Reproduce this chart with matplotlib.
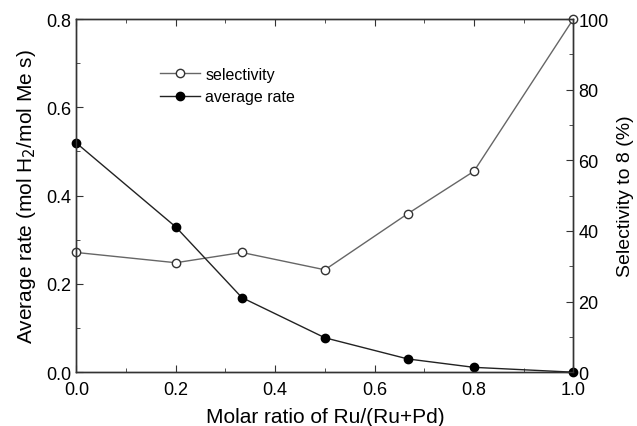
import numpy as np
import matplotlib
matplotlib.use("Agg")
import matplotlib.pyplot as plt
from matplotlib.ticker import MultipleLocator

plt.rcParams['font.family'] = ['Liberation Sans', 'DejaVu Sans']

# data
ratio = [0.0, 0.2, 0.333, 0.5, 0.667, 0.8, 1.0]
avg_rate = [0.519, 0.329, 0.169, 0.078, 0.030, 0.011, 0.0]
selectivity = [33.9, 31.0, 33.9, 29.0, 44.9, 56.9, 100.0]

fig = plt.figure(figsize=(6.37, 4.27), dpi=100)
ax = fig.add_axes([0.120, 0.126, 0.780, 0.827])
ax2 = ax.twinx()

l1, = ax2.plot(ratio, selectivity, color='#666666', lw=1.0, marker='o',
               mfc='white', mec='#333333', ms=6, label='selectivity', clip_on=False)
l2, = ax.plot(ratio, avg_rate, color='#222222', lw=1.0, marker='o',
              mfc='black', mec='black', ms=6, label='average rate', clip_on=False)

ax.set_xlim(0, 1.0)
ax.set_ylim(0, 0.8)
ax2.set_ylim(0, 100)

ax.xaxis.set_major_locator(MultipleLocator(0.2))
ax.xaxis.set_minor_locator(MultipleLocator(0.1))
ax.yaxis.set_major_locator(MultipleLocator(0.2))
ax.yaxis.set_minor_locator(MultipleLocator(0.1))
ax2.yaxis.set_major_locator(MultipleLocator(20))
ax2.yaxis.set_minor_locator(MultipleLocator(10))

ax.xaxis.set_major_formatter(plt.FuncFormatter(lambda v, p: f"{v:.1f}"))
ax.yaxis.set_major_formatter(plt.FuncFormatter(lambda v, p: f"{v:.1f}"))

ax.tick_params(which='both', direction='in', top=True, right=False, labelsize=13, color='#333333')
ax.tick_params(axis='x', pad=6)
ax.tick_params(which='major', length=5)
ax.tick_params(which='minor', length=3)
ax2.tick_params(which='both', direction='in', labelsize=13, color='#333333')
ax2.tick_params(which='major', length=5)
ax2.tick_params(which='minor', length=3)

for a in (ax, ax2):
    for s in a.spines.values():
        s.set_color('#333333')
        s.set_linewidth(1.0)

ax.set_xlabel('Molar ratio of Ru/(Ru+Pd)', fontsize=15, labelpad=7)
ax.set_ylabel('Average rate (mol H$_2$/mol Me s)', fontsize=15, labelpad=6)
ax2.set_ylabel('Selectivity to 8 (%)', fontsize=14, labelpad=6)

ax.set_zorder(ax2.get_zorder() + 1)
ax.patch.set_visible(False)

ax.legend(handles=[l1, l2], loc='upper left', bbox_to_anchor=(0.14, 0.905),
          frameon=False, fontsize=11.5, handlelength=2.5, handletextpad=0.3,
          labelspacing=0.45)

fig.savefig('out.png', dpi=100)
